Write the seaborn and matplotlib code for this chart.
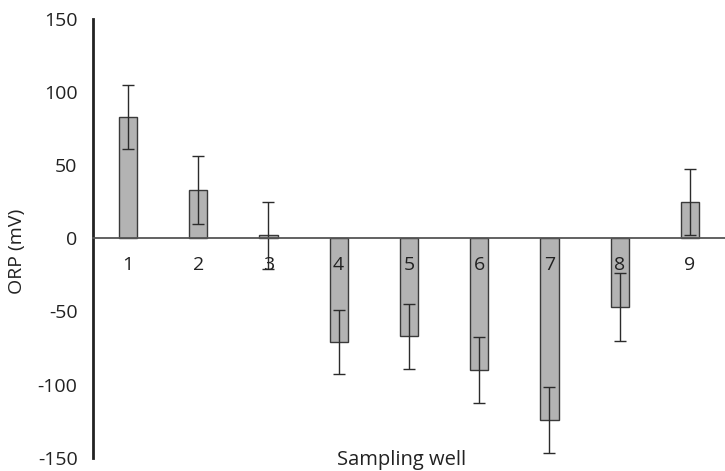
import numpy as np
import pandas as pd
import seaborn as sns
import matplotlib.pyplot as plt

# ORP per sampling well (mV)
wells = ["1", "2", "3", "4", "5", "6", "7", "8", "9"]
orp = [83, 33, 2, -71, -67, -90, -124, -47, 25]
orp_err = [22, 23, 23, 22, 22, 22.5, 22.5, 23, 22.5]

df = pd.DataFrame({"well": wells, "orp": orp, "err": orp_err})

sns.set_style("white")
plt.rcParams["font.family"] = ["Open Sans", "DejaVu Sans"]
plt.rcParams["axes.unicode_minus"] = False

fig = plt.figure(figsize=(7.25, 4.71), dpi=100)
ax = fig.add_axes([0.128, 0.028, 0.872, 0.932])

sns.barplot(data=df, x="well", y="orp", color="#b3b3b3", edgecolor="#3a3a3a",
            linewidth=1, width=0.26, saturation=1, ax=ax, zorder=1)
ax.errorbar(np.arange(len(wells)), df["orp"], yerr=df["err"], fmt="none",
            ecolor="#2b2b2b", elinewidth=1, capsize=4, capthick=1, zorder=1.2)

ax.set_ylim(-150, 150)
ax.set_yticks([-150, -100, -50, 0, 50, 100, 150])
ax.set_xlim(-0.5, len(wells) - 0.5)

# x axis crosses at zero, ticks between categories; labels drawn over the bars
ax.set_axisbelow(False)
ax.xaxis.set_zorder(5)
for s in ["top", "right"]:
    ax.spines[s].set_visible(False)
ax.spines["bottom"].set_position(("data", 0))
ax.spines["bottom"].set_color("#555555")
ax.spines["bottom"].set_linewidth(1.3)
ax.spines["bottom"].set_zorder(5)
ax.spines["left"].set_color("#222222")
ax.spines["left"].set_linewidth(2)

ax.set_xticks(np.arange(len(wells)))
ax.set_xticklabels(wells)
ax.set_xticks(np.arange(len(wells) + 1) - 0.5, minor=True)
ax.tick_params(axis="x", which="major", length=0, pad=13, labelsize=14, colors="#222222")
ax.tick_params(axis="x", which="minor", length=5, width=1.3, direction="out", color="#555555")
ax.tick_params(axis="y", length=6, width=1.3, direction="out", labelsize=14,
               color="#222222", labelcolor="#222222", pad=5)

ax.set_ylabel("ORP (mV)", fontsize=14, color="#222222")
ax.yaxis.set_label_coords(-0.12, 0.47)
ax.yaxis.label.set_va("center")
ax.set_xlabel("Sampling well", fontsize=14.5, color="#222222")
ax.xaxis.set_label_coords(0.489, -0.017)
ax.xaxis.label.set_va("baseline")

fig.savefig("out.png", dpi=100)
